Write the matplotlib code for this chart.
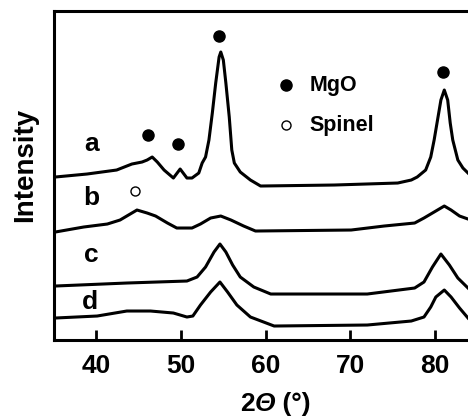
"""XRD patterns a-d (MgO / spinel) redrawn as out.png."""
import matplotlib

matplotlib.use("Agg")
import matplotlib.pyplot as plt  # noqa: E402
from matplotlib.offsetbox import AnnotationBbox, HPacker, TextArea  # noqa: E402

plt.rcParams["font.family"] = ["Liberation Sans", "DejaVu Sans"]
plt.rcParams["font.weight"] = "bold"

# patterns (2theta in degrees, intensity in arbitrary offset units)
tt_a = [35.15, 38.9, 42.4, 44.2, 45.4, 46.0, 46.6, 47.2, 48.0, 49.1, 49.9, 50.7, 51.3,
        52.1, 52.5, 52.9, 53.3, 53.7, 54.1, 54.5, 54.7, 55.0, 55.3, 55.7, 56.0, 56.3,
        57.0, 58.2, 59.4, 68.1, 75.6, 77.2, 77.9, 78.9, 79.5, 79.9, 80.3, 80.7, 81.1,
        81.5, 81.8, 82.1, 82.7, 83.3, 83.9]
int_a = [163, 166, 170, 176, 178, 180, 183, 178, 170, 162, 171, 162, 162,
         167, 177, 183, 200, 227, 257, 283, 288, 280, 257, 223, 190, 177,
         168, 160, 154, 155, 157, 160, 163, 170, 183, 200, 220, 240, 250,
         240, 217, 200, 180, 172, 167]

tt_b = [35.15, 38.5, 41.3, 42.8, 43.8, 44.8, 46.0, 47.0, 48.4, 49.5, 51.3, 52.3, 53.5,
        54.7, 55.9, 57.4, 58.8, 70.1, 74.0, 77.6, 78.7, 79.9, 81.1, 81.9, 82.9, 83.9]
int_b = [108, 113, 116, 120, 125, 130, 127, 124, 117, 112, 112, 116, 122,
         124, 120, 114, 109, 110, 114, 117, 122, 128, 134, 130, 124, 121]

tt_c = [35.15, 43.6, 50.7, 51.9, 52.9, 53.9, 54.6, 55.3, 56.1, 57.0, 58.6, 60.6, 72.0,
        77.6, 78.7, 79.7, 80.7, 81.7, 82.7, 83.9]
int_c = [54, 57, 59, 63, 73, 88, 96, 88, 75, 63, 53, 46, 46,
         52, 58, 73, 86, 75, 62, 52]

tt_d = [35.15, 40.1, 43.6, 46.4, 49.1, 50.7, 51.4, 52.3, 53.5, 54.6, 55.5, 56.6, 58.2,
        61.0, 72.0, 77.2, 78.7, 79.5, 80.1, 81.1, 81.9, 82.9, 83.9]
int_d = [22, 24, 29, 29, 27, 23, 24, 35, 48, 58, 48, 35, 23,
         14, 15, 19, 23, 33, 43, 50, 43, 32, 22]

labels = ["a", "b", "c", "d"]
label_pos = [(39.4, 196), (39.4, 142), (39.4, 85), (39.3, 38)]

mgo_marks_tt = [46.1, 49.7, 54.5, 81.0]
mgo_marks_int = [205, 196, 304, 268]
spinel_marks_tt = [44.6]
spinel_marks_int = [149]

fig = plt.figure(figsize=(4.68, 4.19), dpi=100)
ax = fig.add_axes([0.1154, 0.1885, 0.8846, 0.7852])

for tt, inten in zip([tt_a, tt_b, tt_c, tt_d], [int_a, int_b, int_c, int_d]):
    ax.plot(tt, inten, color="black", lw=2.2, solid_joinstyle="round")

for lab, (x, y) in zip(labels, label_pos):
    ax.text(x, y, lab, fontsize=19, fontweight="bold", ha="center", va="center")

ax.plot(mgo_marks_tt, mgo_marks_int, "o", color="black", ms=8)
ax.plot(spinel_marks_tt, spinel_marks_int, "o", mfc="white", mec="black", mew=1.0, ms=6.5)

# legend drawn as text, like the original figure
ax.plot([62.4], [255], "o", color="black", ms=8)
ax.text(65.2, 255, "MgO", fontsize=15.5, fontweight="bold", va="center")
ax.plot([62.4], [215], "o", mfc="white", mec="black", mew=1.0, ms=6.5)
ax.text(65.2, 215, "Spinel", fontsize=15.5, fontweight="bold", va="center")

ax.set_xlim(35, 83.9)
ax.set_ylim(0, 329)
ax.set_xticks([40, 50, 60, 70, 80])
ax.set_yticks([])
ax.tick_params(axis="x", direction="in", length=7, width=2, labelsize=19, pad=10)
for lbl in ax.get_xticklabels():
    lbl.set_fontweight("bold")
for side in ["left", "bottom", "top"]:
    ax.spines[side].set_linewidth(2.2)
ax.spines["right"].set_visible(False)

# x label with an italic capital theta (mathtext forces Greek capitals upright)
tp = dict(fontsize=19, fontweight="bold", color="black")
parts = [TextArea("2", textprops=tp),
         TextArea("Θ", textprops=dict(tp, fontstyle="italic")),
         TextArea(" (°)", textprops=tp)]
xlab = HPacker(children=parts, sep=0, pad=0, align="baseline")
fig.add_artist(AnnotationBbox(xlab, (0.588, 0.035), xycoords="figure fraction",
                              frameon=False, box_alignment=(0.5, 0.5)))

ax.set_ylabel("Intensity", fontsize=20, fontweight="bold")
ax.yaxis.set_label_coords(-0.038, 0.532)

fig.savefig("out.png", dpi=100)
